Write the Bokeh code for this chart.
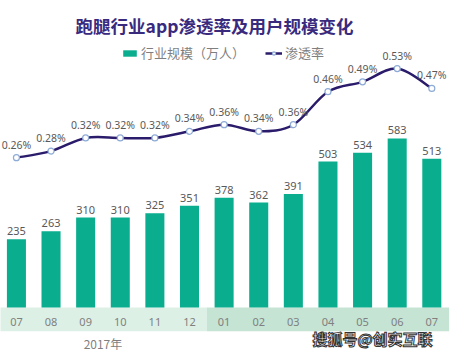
from bokeh.plotting import figure
from bokeh.models import Range1d, Label, Legend, LegendItem, ColumnDataSource
from bokeh.core.properties import value
from bokeh.embed import file_html
from bokeh.resources import INLINE

months = ["07", "08", "09", "10", "11", "12", "01", "02", "03", "04", "05", "06", "07"]
years = ["2017"] * 6 + ["2018"] * 7
users = [235, 263, 310, 310, 325, 351, 378, 362, 391, 503, 534, 583, 513]
rate = [0.26, 0.28, 0.32, 0.32, 0.32, 0.34, 0.36, 0.34, 0.36, 0.46, 0.49, 0.53, 0.47]
year_label = "2017年"
title_text = "跑腿行业app渗透率及用户规模变化"
bar_name = "行业规模（万人）"
line_name = "渗透率"
watermark = "搜狐号@创实互联"

W, H = 450, 356
BAR_COLOR = "#0aae8e"
LINE_COLOR = "#2b1b6b"
FONT = "Noto Sans CJK SC"

idx = list(range(len(months)))
n = len(idx)

p = figure(width=W, height=H, output_backend="svg", toolbar_location=None,
           x_range=Range1d(-0.46, n - 0.46), y_range=Range1d(-169, 1058.6),
           min_border=0, outline_line_color=None)
p.xaxis.visible = False
p.yaxis.visible = False
p.xgrid.visible = False
p.ygrid.visible = False
p.background_fill_color = "white"
p.border_fill_color = "white"
p.extra_y_ranges = {"pct": Range1d(-0.3424, 0.7364)}

# category bands per year group
groups = []
for i, y in enumerate(years):
    if not groups or groups[-1][0] != y:
        groups.append([y, i, i])
    else:
        groups[-1][2] = i
band_colors = {"2017": "#ddf0e6", "2018": "#c5e4d4"}
for g, a, b in groups:
    p.quad(left=a - 0.5, right=b + 0.5, top=0, bottom=-82, fill_color=band_colors[g],
           line_color=None)

src = ColumnDataSource(dict(x=idx, users=users, rate=rate, months=months,
                            ulab=[str(u) for u in users],
                            rlab=[f"{r:.2f}%" for r in rate]))

bars = p.vbar(x="x", top="users", width=0.55, bottom=0, source=src,
              fill_color=BAR_COLOR, line_color=None)
p.text(x="x", y="users", text="ulab", source=src, text_align="center",
       text_baseline="bottom", y_offset=-4, text_font_size="11px",
       text_color="#595959", text_font=value("Noto Sans"))

# month labels inside band
p.text(x="x", y=0, text="months", source=src, text_align="center",
       text_baseline="middle", y_offset=15, text_font_size="11px",
       text_color="#808080", text_font=value("Noto Sans"))

# year label under first group
g0 = groups[0]
p.text(x=[(g0[1] + g0[2]) / 2], y=[0], text=[year_label], text_align="center",
       text_baseline="middle", y_offset=36, text_font_size="12px",
       text_color="#7f7f7f", text_font=value(FONT))

# smooth line via bezier segments (Catmull-Rom control points)
x0, y0, x1, y1, cx0, cy0, cx1, cy1 = [], [], [], [], [], [], [], []
for i in range(n - 1):
    pm = (idx[max(i - 1, 0)], rate[max(i - 1, 0)])
    pa = (idx[i], rate[i])
    pb = (idx[i + 1], rate[i + 1])
    pn = (idx[min(i + 2, n - 1)], rate[min(i + 2, n - 1)])
    x0.append(pa[0]); y0.append(pa[1]); x1.append(pb[0]); y1.append(pb[1])
    cx0.append(pa[0] + (pb[0] - pm[0]) / 6); cy0.append(pa[1] + (pb[1] - pm[1]) / 6)
    cx1.append(pb[0] - (pn[0] - pa[0]) / 6); cy1.append(pb[1] - (pn[1] - pa[1]) / 6)
bez = p.bezier(x0=x0, y0=y0, x1=x1, y1=y1, cx0=cx0, cy0=cy0, cx1=cx1, cy1=cy1,
               line_color=LINE_COLOR, line_width=2.5, y_range_name="pct")
pts = p.scatter(x="x", y="rate", source=src, size=6, fill_color="white",
                line_color="#8eaad6", line_width=1.2, y_range_name="pct")
p.text(x="x", y="rate", text="rlab", source=src, text_align="center",
       text_baseline="bottom", y_offset=-6, text_font_size="10.5px",
       text_color="#595959", text_font=value("Noto Sans"), y_range_name="pct")

legend = Legend(items=[LegendItem(label=bar_name, renderers=[bars]),
                       LegendItem(label=line_name, renderers=[bez, pts])],
                orientation="horizontal", location=(121, 294), padding=0, margin=0,
                spacing=20, label_standoff=3, glyph_width=17, glyph_height=8,
                label_text_font_size="13px", label_text_color="#7f7f7f",
                label_text_font=FONT, border_line_color=None,
                background_fill_alpha=0)
p.add_layout(legend, "center")

p.add_layout(Label(x=214, y=H - 25, x_units="screen", y_units="screen", text=title_text,
                   text_align="center", text_baseline="middle", text_font_size="17.5px",
                   text_font_style="bold", text_color="#3a2a7e", text_font=FONT))

p.add_layout(Label(x=372, y=H - 338, x_units="screen", y_units="screen", text=watermark,
                   text_align="center", text_baseline="middle", text_font_size="15px",
                   text_font_style="bold", text_color="white", text_font=FONT,
                   text_outline_color="#333333"))

open("out.html", "w").write(file_html(p, INLINE))
